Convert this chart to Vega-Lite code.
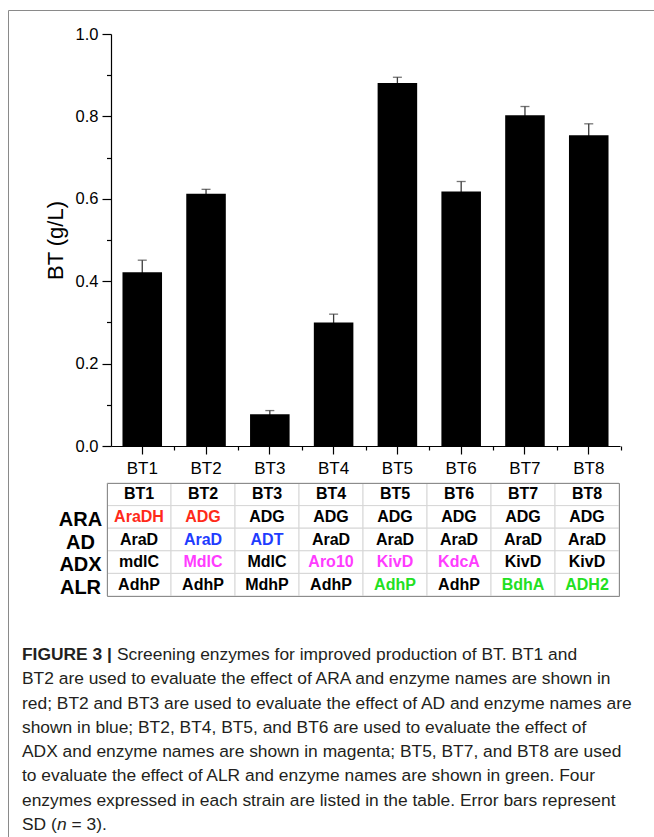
{
  "$schema": "https://vega.github.io/schema/vega-lite/v6.json",
  "width": 646,
  "height": 827,
  "autosize": {"type": "none"},
  "padding": {"left": 8, "top": 10, "right": 0, "bottom": 0},
  "background": "white",
  "config": {
    "view": {"stroke": null},
    "font": "Liberation Sans",
    "axis": {"labelFont": "Liberation Sans", "titleFont": "Liberation Sans", "labelColor": "#000", "titleColor": "#000", "domainColor": "#000", "tickColor": "#000", "grid": false}
  },
  "datasets": {
    "bt": [
      {"strain": "BT1", "bt": 0.422, "sd": 0.029},
      {"strain": "BT2", "bt": 0.612, "sd": 0.011},
      {"strain": "BT3", "bt": 0.077, "sd": 0.009},
      {"strain": "BT4", "bt": 0.300, "sd": 0.020},
      {"strain": "BT5", "bt": 0.881, "sd": 0.014},
      {"strain": "BT6", "bt": 0.618, "sd": 0.024},
      {"strain": "BT7", "bt": 0.803, "sd": 0.021},
      {"strain": "BT8", "bt": 0.754, "sd": 0.028}
    ],
    "table": [
      {"strain": "BT1", "row": "hdr", "name": "BT1", "hl": "none"},
      {"strain": "BT1", "row": "ARA", "name": "AraDH", "hl": "ARA"},
      {"strain": "BT1", "row": "AD", "name": "AraD", "hl": "none"},
      {"strain": "BT1", "row": "ADX", "name": "mdlC", "hl": "none"},
      {"strain": "BT1", "row": "ALR", "name": "AdhP", "hl": "none"},
      {"strain": "BT2", "row": "hdr", "name": "BT2", "hl": "none"},
      {"strain": "BT2", "row": "ARA", "name": "ADG", "hl": "ARA"},
      {"strain": "BT2", "row": "AD", "name": "AraD", "hl": "AD"},
      {"strain": "BT2", "row": "ADX", "name": "MdlC", "hl": "ADX"},
      {"strain": "BT2", "row": "ALR", "name": "AdhP", "hl": "none"},
      {"strain": "BT3", "row": "hdr", "name": "BT3", "hl": "none"},
      {"strain": "BT3", "row": "ARA", "name": "ADG", "hl": "none"},
      {"strain": "BT3", "row": "AD", "name": "ADT", "hl": "AD"},
      {"strain": "BT3", "row": "ADX", "name": "MdlC", "hl": "none"},
      {"strain": "BT3", "row": "ALR", "name": "MdhP", "hl": "none"},
      {"strain": "BT4", "row": "hdr", "name": "BT4", "hl": "none"},
      {"strain": "BT4", "row": "ARA", "name": "ADG", "hl": "none"},
      {"strain": "BT4", "row": "AD", "name": "AraD", "hl": "none"},
      {"strain": "BT4", "row": "ADX", "name": "Aro10", "hl": "ADX"},
      {"strain": "BT4", "row": "ALR", "name": "AdhP", "hl": "none"},
      {"strain": "BT5", "row": "hdr", "name": "BT5", "hl": "none"},
      {"strain": "BT5", "row": "ARA", "name": "ADG", "hl": "none"},
      {"strain": "BT5", "row": "AD", "name": "AraD", "hl": "none"},
      {"strain": "BT5", "row": "ADX", "name": "KivD", "hl": "ADX"},
      {"strain": "BT5", "row": "ALR", "name": "AdhP", "hl": "ALR"},
      {"strain": "BT6", "row": "hdr", "name": "BT6", "hl": "none"},
      {"strain": "BT6", "row": "ARA", "name": "ADG", "hl": "none"},
      {"strain": "BT6", "row": "AD", "name": "AraD", "hl": "none"},
      {"strain": "BT6", "row": "ADX", "name": "KdcA", "hl": "ADX"},
      {"strain": "BT6", "row": "ALR", "name": "AdhP", "hl": "none"},
      {"strain": "BT7", "row": "hdr", "name": "BT7", "hl": "none"},
      {"strain": "BT7", "row": "ARA", "name": "ADG", "hl": "none"},
      {"strain": "BT7", "row": "AD", "name": "AraD", "hl": "none"},
      {"strain": "BT7", "row": "ADX", "name": "KivD", "hl": "none"},
      {"strain": "BT7", "row": "ALR", "name": "BdhA", "hl": "ALR"},
      {"strain": "BT8", "row": "hdr", "name": "BT8", "hl": "none"},
      {"strain": "BT8", "row": "ARA", "name": "ADG", "hl": "none"},
      {"strain": "BT8", "row": "AD", "name": "AraD", "hl": "none"},
      {"strain": "BT8", "row": "ADX", "name": "KivD", "hl": "none"},
      {"strain": "BT8", "row": "ALR", "name": "ADH2", "hl": "ALR"}
    ],
    "caption": [
      {"line": 1, "part": "head", "text": "FIGURE 3 |"},
      {"line": 1, "part": "lead", "text": "Screening enzymes for improved production of BT. BT1 and"},
      {"line": 2, "part": "body", "text": "BT2 are used to evaluate the effect of ARA and enzyme names are shown in"},
      {"line": 3, "part": "body", "text": "red; BT2 and BT3 are used to evaluate the effect of AD and enzyme names are"},
      {"line": 4, "part": "body", "text": "shown in blue; BT2, BT4, BT5, and BT6 are used to evaluate the effect of"},
      {"line": 5, "part": "body", "text": "ADX and enzyme names are shown in magenta; BT5, BT7, and BT8 are used"},
      {"line": 6, "part": "body", "text": "to evaluate the effect of ALR and enzyme names are shown in green. Four"},
      {"line": 7, "part": "body", "text": "enzymes expressed in each strain are listed in the table. Error bars represent"},
      {"line": 8, "part": "body", "text": "SD ("},
      {"line": 8, "part": "ital", "text": "n"},
      {"line": 8, "part": "tail", "text": "= 3)."}
    ]
  },
  "layer": [
    {
      "data": {"values": [{"f": 0}]},
      "mark": {"type": "point", "opacity": 0},
      "encoding": {
        "x": {"datum": 0, "type": "quantitative", "scale": {"domain": [0, 1]}, "axis": {"orient": "top", "domain": true, "domainColor": "#8a8a8a", "ticks": false, "labels": false, "title": null}},
        "y": {"datum": 0, "type": "quantitative", "scale": {"domain": [0, 1]}, "axis": {"orient": "left", "domain": true, "domainColor": "#8a8a8a", "ticks": false, "labels": false, "title": null}}
      }
    },
    {
      "data": {"name": "bt"},
      "layer": [
        {
          "mark": {"type": "errorbar", "color": "#3a3a3a", "thickness": 1.3, "ticks": {"size": 9, "thickness": 1.3, "color": "#3a3a3a"}},
          "encoding": {
            "x": {"field": "strain", "type": "nominal", "scale": {"type": "band", "domain": ["BT1", "BT2", "BT3", "BT4", "BT5", "BT6", "BT7", "BT8"], "range": [103, 612], "paddingInner": 0.38, "paddingOuter": 0.18}, "axis": null},
            "y": {"field": "bt", "type": "quantitative", "scale": {"domain": [0, 1], "range": [436, 24], "nice": false}, "axis": null},
            "yError": {"field": "sd"}
          }
        },
        {
          "mark": {"type": "bar", "color": "#000"},
          "encoding": {
            "x": {"field": "strain", "type": "nominal", "scale": {"type": "band", "domain": ["BT1", "BT2", "BT3", "BT4", "BT5", "BT6", "BT7", "BT8"], "range": [103, 612], "paddingInner": 0.38, "paddingOuter": 0.18},
              "axis": {"orient": "bottom", "offset": -391, "title": null, "labelAngle": 0, "labelFontSize": 17, "labelPadding": 6, "tickSize": 8, "tickWidth": 1.2, "domainWidth": 1.2}},
            "y": {"field": "bt", "type": "quantitative", "scale": {"domain": [0, 1], "range": [436, 24], "nice": false},
              "axis": {"orient": "left", "offset": -103, "title": "BT (g/L)", "values": [0, 0.2, 0.4, 0.6, 0.8, 1.0], "format": ".1f", "labelFontSize": 16.5, "labelPadding": 4, "tickSize": 9, "tickWidth": 1.2, "domainWidth": 1.2, "titleFontSize": 22, "titleFontWeight": "normal", "titlePadding": 8}}
          }
        },
        {
          "mark": {"type": "point", "opacity": 0},
          "encoding": {
            "x": {"field": "strain", "type": "nominal", "scale": {"type": "band", "domain": ["BT1", "BT2", "BT3", "BT4", "BT5", "BT6", "BT7", "BT8"], "range": [103, 612], "paddingInner": 0.38, "paddingOuter": 0.18},
              "axis": {"orient": "bottom", "offset": -391, "title": null, "labels": false, "domain": false, "tickSize": 4, "tickWidth": 1.2, "tickOffset": 31.9}},
            "y": {"field": "bt", "type": "quantitative", "scale": {"domain": [0, 1], "range": [436, 24], "nice": false},
              "axis": {"orient": "left", "offset": -103, "title": null, "values": [0.1, 0.3, 0.5, 0.7, 0.9], "labels": false, "domain": false, "tickSize": 4.5, "tickWidth": 1.2}}
          }
        }
      ],
      "resolve": {"axis": {"x": "independent", "y": "independent"}}
    },
    {
      "data": {"name": "table"},
      "layer": [
        {
          "mark": {"type": "rect", "fill": "#ffffff", "stroke": "#d6d6d6", "strokeWidth": 1},
          "encoding": {
            "x": {"field": "strain", "type": "nominal", "scale": {"type": "band", "domain": ["BT1", "BT2", "BT3", "BT4", "BT5", "BT6", "BT7", "BT8"], "range": [99, 611], "paddingInner": 0, "paddingOuter": 0},
              "axis": {"orient": "top", "offset": -473, "title": null, "labels": false, "ticks": false, "domain": true, "domainColor": "#8c8c8c", "zindex": 1}},
            "y": {"field": "row", "type": "nominal", "scale": {"type": "band", "domain": ["hdr", "ARA", "AD", "ADX", "ALR"], "range": [473, 586], "paddingInner": 0, "paddingOuter": 0},
              "axis": {"orient": "left", "offset": -99, "title": null, "ticks": false, "tickSize": 0, "domain": true, "domainColor": "#8c8c8c", "labelAlign": "center", "labelPadding": 27, "labelFontSize": 20, "labelFontWeight": "bold", "labelOffset": 3, "labelExpr": "datum.value == 'hdr' ? '' : datum.value", "zindex": 1}}
          }
        },
        {
          "mark": {"type": "text", "font": "Liberation Sans", "fontWeight": "bold", "fontSize": 16, "align": "center", "baseline": "middle"},
          "encoding": {
            "x": {"field": "strain", "type": "nominal", "scale": {"type": "band", "domain": ["BT1", "BT2", "BT3", "BT4", "BT5", "BT6", "BT7", "BT8"], "range": [99, 611], "paddingInner": 0, "paddingOuter": 0},
              "axis": {"orient": "bottom", "offset": -241, "title": null, "labels": false, "ticks": false, "domain": true, "domainColor": "#8c8c8c", "zindex": 1}},
            "y": {"field": "row", "type": "nominal", "scale": {"type": "band", "domain": ["hdr", "ARA", "AD", "ADX", "ALR"], "range": [473, 586], "paddingInner": 0, "paddingOuter": 0},
              "axis": {"orient": "right", "offset": -35, "title": null, "labels": false, "ticks": false, "domain": true, "domainColor": "#8c8c8c", "zindex": 1}},
            "text": {"field": "name"},
            "color": {"field": "hl", "type": "nominal", "scale": {"domain": ["none", "ARA", "AD", "ADX", "ALR"], "range": ["#000000", "#ff2a1a", "#1f3cff", "#ff3cff", "#22e022"]}, "legend": null}
          }
        }
      ],
      "resolve": {"axis": {"x": "independent", "y": "independent"}}
    },
    {
      "data": {"name": "caption"},
      "encoding": {
        "x": {"datum": 0, "type": "quantitative", "scale": {"domain": [0, 1], "range": [14, 646]}, "axis": null},
        "y": {"field": "line", "type": "quantitative", "scale": {"domain": [1, 8], "range": [645, 815]}, "axis": null},
        "text": {"field": "text"}
      },
      "layer": [
        {"transform": [{"filter": "datum.part == 'head'"}], "mark": {"type": "text", "align": "left", "font": "Liberation Sans", "fontSize": 17.4, "fontWeight": "bold", "color": "#231f20"}},
        {"transform": [{"filter": "datum.part == 'lead'"}], "mark": {"type": "text", "align": "left", "font": "Liberation Sans", "fontSize": 17.4, "color": "#231f20", "dx": 95}},
        {"transform": [{"filter": "datum.part == 'body'"}], "mark": {"type": "text", "align": "left", "font": "Liberation Sans", "fontSize": 17.4, "color": "#231f20"}},
        {"transform": [{"filter": "datum.part == 'ital'"}], "mark": {"type": "text", "align": "left", "font": "Liberation Sans", "fontSize": 17.4, "fontStyle": "italic", "color": "#231f20", "dx": 35}},
        {"transform": [{"filter": "datum.part == 'tail'"}], "mark": {"type": "text", "align": "left", "font": "Liberation Sans", "fontSize": 17.4, "color": "#231f20", "dx": 49.5}}
      ]
    }
  ],
  "resolve": {"scale": {"x": "independent", "y": "independent"}, "axis": {"x": "independent", "y": "independent"}}
}
